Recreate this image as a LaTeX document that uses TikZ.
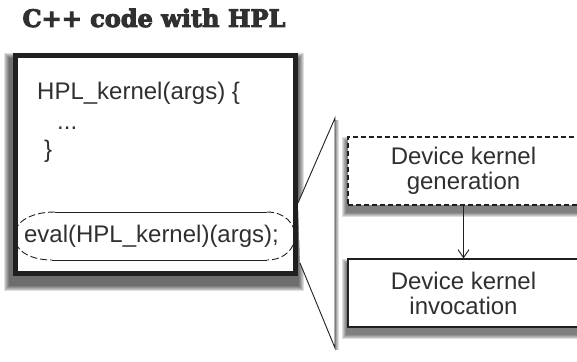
\documentclass[tikz,border=0pt]{standalone}
\usepackage{fontspec}
\setmainfont{Liberation Sans}
\newfontfamily\titlefont[FakeBold=4]{DejaVu Serif Bold}
\usetikzlibrary{shapes.geometric,arrows.meta}
\definecolor{ink}{HTML}{303030}
\definecolor{edge}{HTML}{202020}
\pgfdeclarelayer{bg}
\pgfdeclarelayer{shade}
\pgfsetlayers{bg,shade,main}
\tikzset{
  codetext/.style={text=ink, inner sep=0pt, font=\fontsize{24}{25}\selectfont},
  mybox/.style={draw=edge, fill=white, inner sep=0pt, minimum width=231pt, minimum height=68pt,
    align=center, text=ink, font=\fontsize{24}{25}\selectfont},
  shadelayer/.style={black, opacity=0.13},
  ringline/.style={draw=edge, line width=0.9pt}
}
\begin{document}
\begin{tikzpicture}[x=1pt,y=-1pt]
\useasboundingbox (0,0) rectangle (577,361);
\clip (0,0) rectangle (577,361);
\begin{pgfonlayer}{bg}
\fill[white] (0,0) rectangle (577,361);
\end{pgfonlayer}

\node[text=ink, inner sep=0pt, font=\titlefont\fontsize{24}{26}\selectfont] (title) at (154,18) {C++ code with HPL};

\node[draw=edge, line width=5pt, fill=white, inner sep=0pt, minimum width=280pt, minimum height=218pt] (main) at (155.5,164.5) {};

\node[codetext, anchor=west] (sig) at (37,93) {HPL\_kernel(args) \{};
\node[codetext, anchor=base west] (dots) at (57,129) {...};
\node[codetext, anchor=west] (close) at (44,151) {\}};

% flattened ring around the eval call
\coordinate (rtl) at (55,212);
\coordinate (rtr) at (267,212);
\coordinate (rbl) at (52,260);
\coordinate (rbr) at (267,260);
\coordinate (rw) at (14,236);
\coordinate (re) at (295,236);
\draw[ringline] (rtl) -- (rtr);
\draw[ringline] (rbl) -- (rbr);
\draw[ringline, dash pattern=on 7pt off 3pt] (rtl) .. controls (28,212) and (14,224) .. (rw) .. controls (14,249) and (28,260) .. (rbl);
\draw[ringline, dash pattern=on 7pt off 3pt] (rtr) .. controls (285,212) and (295,224) .. (re) .. controls (295,248) and (285,260) .. (rbr);
\node[codetext] (evaltxt) at (151.5,236) {eval(HPL\_kernel)(args);};

\coordinate (t1) at (298,203);
\coordinate (t2) at (335,118);
\coordinate (t3) at (335,348);
\coordinate (t4) at (300,263);
\filldraw[fill=white, draw=edge, line width=0.9pt] (t1) -- (t2) -- (t3) -- (t4);

\node[mybox, dash pattern=on 5pt off 3pt, line width=1.5pt] (gen) at (463.5,171) {Device kernel\\generation};
\node[mybox, line width=1.2pt] (inv) at (463.5,293) {Device kernel\\invocation};

\draw[draw=edge, line width=0.9pt, -{Straight Barb[length=8pt,width=11pt]}] (gen.south) -- (inv.north);

\begin{pgfonlayer}{shade}
\foreach \e in {0,...,5} {
  \fill[shadelayer] ([shift={(-4-\e,4.5-\e)}]main.north west) rectangle ([shift={(0.5+\e,9.5+\e)}]main.south east);
}
\foreach \n in {gen,inv} {
  \foreach \e in {0,...,4} {
    \fill[shadelayer] ([shift={(-1.5-\e,5-\e)}]\n.north west) rectangle ([shift={(1.5+\e,7+\e)}]\n.south east);
  }
}
\foreach \e in {0,...,2} {
  \fill[shadelayer] ([shift={(0,2)}]t2) rectangle ([shift={(2+\e,2)}]t3);
}
\end{pgfonlayer}
\end{tikzpicture}
\end{document}
